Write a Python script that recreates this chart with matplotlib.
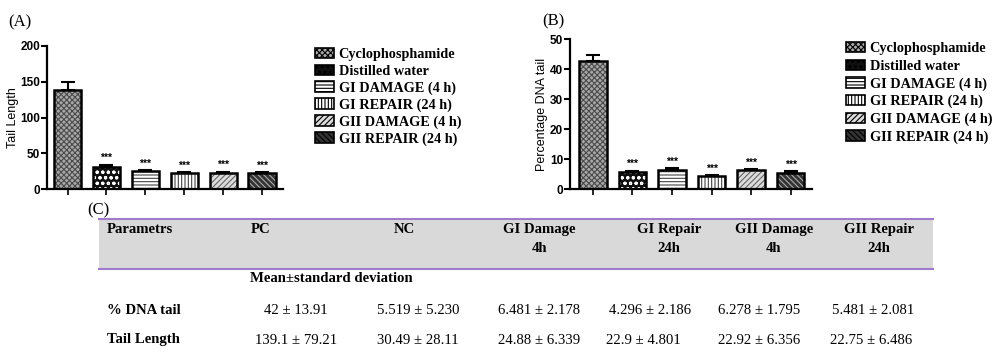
import matplotlib
matplotlib.use("Agg")
import matplotlib.pyplot as plt
from matplotlib.patches import Patch, Rectangle
from matplotlib.lines import Line2D

# ---------------- data ----------------
groups = ["Cyclophosphamide", "Distilled water", "GI DAMAGE (4 h)",
          "GI REPAIR (24 h)", "GII DAMAGE (4 h)", "GII REPAIR (24 h)"]
tail_length = [139.1, 30.49, 24.88, 22.9, 22.92, 22.75]
tail_length_err = [11.0, 3.5, 1.0, 0.7, 0.9, 0.9]
dna_tail = [42.8, 5.519, 6.481, 4.296, 6.278, 5.481]
dna_tail_err = [1.8, 0.6, 0.4, 0.3, 0.3, 0.4]
significance = ["", "***", "***", "***", "***", "***"]

table_header = ["Parametrs", "PC", "NC", "GI Damage\n4h", "GI Repair\n24h",
                "GII Damage\n4h", "GII Repair\n24h"]
table_subheader = "Mean\u00b1standard deviation"
row_labels = ["% DNA tail", "Tail Length"]
row_dna = ["42 \u00b1 13.91", "5.519 \u00b1 5.230", "6.481 \u00b1 2.178",
           "4.296 \u00b1 2.186", "6.278 \u00b1 1.795", "5.481 \u00b1 2.081"]
row_tail = ["139.1 \u00b1 79.21", "30.49 \u00b1 28.11", "24.88 \u00b1 6.339",
            "22.9 \u00b1 4.801", "22.92 \u00b1 6.356", "22.75 \u00b1 6.486"]

# ---------------- styles ----------------
W, H = 993, 356
plt.rcParams['hatch.linewidth'] = 0.8
styles = [
    dict(face="#a8a8a8", hatch="xxxxxx", hcol="#4a4a4a"),
    dict(face="#111111", hatch="ooo", hcol="white"),
    dict(face="white", hatch="-----", hcol="#444444"),
    dict(face="white", hatch="|||||", hcol="#444444"),
    dict(face="#dcdcdc", hatch="//////", hcol="#666666"),
    dict(face="#333333", hatch="\\\\\\\\\\\\", hcol="#aaaaaa"),
]

serif = "Liberation Serif"


def fx(x):
    return x / W


def fy(y):
    return 1 - y / H


def ax_rect(l, t, r, b):
    return [fx(l), fy(b), (r - l) / W, (b - t) / H]


fig = plt.figure(figsize=(W / 100, H / 100), dpi=100)


def bar_panel(rect, vals, errs, ymax, ystep, xlim, ylabel):
    ax = fig.add_axes(rect)
    xs = list(range(len(vals)))
    for i, (v, st) in enumerate(zip(vals, styles)):
        ax.bar(xs[i], v, width=0.70, color=st["face"], hatch=st["hatch"],
               edgecolor=st["hcol"], linewidth=0, zorder=2)
    ax.bar(xs, vals, width=0.70, facecolor="none", edgecolor="black",
           linewidth=1.8, zorder=3)
    ax.errorbar(xs, vals, yerr=[[0] * len(errs), errs], fmt="none",
                ecolor="black", elinewidth=1.5, capsize=5, capthick=1.5,
                zorder=1)
    for x, v, e, s in zip(xs, vals, errs, significance):
        if s:
            ax.text(x, v + e + ymax * 0.012, s, ha="center", va="bottom",
                    fontsize=7.5, fontweight="bold", family="Liberation Sans")
    ax.set_xlim(*xlim)
    ax.set_ylim(0, ymax)
    ax.set_yticks(range(0, ymax + 1, ystep))
    ax.set_xticks(xs)
    ax.set_xticklabels([])
    for sp in ["top", "right"]:
        ax.spines[sp].set_visible(False)
    for sp in ["left", "bottom"]:
        ax.spines[sp].set_linewidth(1.6)
    ax.tick_params(axis="y", length=4, width=1.5, labelsize=8.5, pad=1)
    ax.tick_params(axis="x", length=4, width=1.2)
    for lab in ax.get_yticklabels():
        lab.set_fontweight("bold")
        lab.set_family("Liberation Sans")
    ax.set_ylabel(ylabel, fontsize=9, family="Liberation Sans", labelpad=1)
    return ax


axA = bar_panel(ax_rect(47, 46, 283, 189), tail_length, tail_length_err,
                200, 50, (-0.53, 5.54), "Tail Length")
axB = bar_panel(ax_rect(570, 39, 812, 189), dna_tail, dna_tail_err,
                50, 10, (-0.58, 5.54), "Percentage DNA tail")

# legends
handles = [Patch(facecolor=st["face"], hatch=st["hatch"], edgecolor="black",
                 linewidth=1.2) for st in styles]


def add_legend(x, y, spacing):
    leg = fig.legend(handles, groups, loc="upper left",
                     bbox_to_anchor=(fx(x), fy(y)), frameon=False,
                     borderpad=0, borderaxespad=0, handlelength=1.35,
                     handleheight=0.75, handletextpad=0.3,
                     labelspacing=spacing,
                     prop=dict(family=serif, weight="bold", size=10.3))
    return leg


add_legend(315, 48, 0.24)
add_legend(846, 42, 0.3)

# panel labels
fig.text(fx(8), fy(22), "(A)", family=serif, fontsize=12, va="center")
fig.text(fx(542), fy(21), "(B)", family=serif, fontsize=12, va="center")
fig.text(fx(87), fy(210), "(C)", family=serif, fontsize=12, va="center")

# ---------------- table ----------------
fig.patches.append(Rectangle((fx(99), fy(269)), (933 - 99) / W, 50 / H,
                             transform=fig.transFigure, facecolor="#d9d9d9",
                             edgecolor="none", zorder=0))
for yy in (219, 269):
    fig.add_artist(Line2D([fx(99), fx(933)], [fy(yy), fy(yy)],
                          transform=fig.transFigure, color="#a07acb", lw=1.5))

hdr_x = [107, 251, 404, 539, 669, 774, 879]
for i, (t, x) in enumerate(zip(table_header, hdr_x)):
    if i == 0 or i == 1:
        fig.text(fx(x), fy(223), t, family=serif, weight="bold", fontsize=10.6,
                 ha="left", va="top")
    else:
        fig.text(fx(x), fy(223), t, family=serif, weight="bold", fontsize=10.6,
                 ha="center", va="top", multialignment="center",
                 linespacing=1.6)

fig.text(fx(250), fy(278), table_subheader, family=serif, weight="bold",
         fontsize=10.6, ha="left", va="center")

row_y = [310, 340]
for lab, y in zip(row_labels, row_y):
    fig.text(fx(107), fy(y), lab, family=serif, weight="bold", fontsize=10.6,
             ha="left", va="center")

dna_x = [296, 418, 539, 650, 759, 873]
tail_x = [296, 418, 539, 643, 759, 871]
for t, x in zip(row_dna, dna_x):
    fig.text(fx(x), fy(row_y[0]), t, family=serif, fontsize=10.6,
             ha="center", va="center")
for t, x in zip(row_tail, tail_x):
    fig.text(fx(x), fy(row_y[1]), t, family=serif, fontsize=10.6,
             ha="center", va="center")

fig.savefig("out.png", dpi=100)
